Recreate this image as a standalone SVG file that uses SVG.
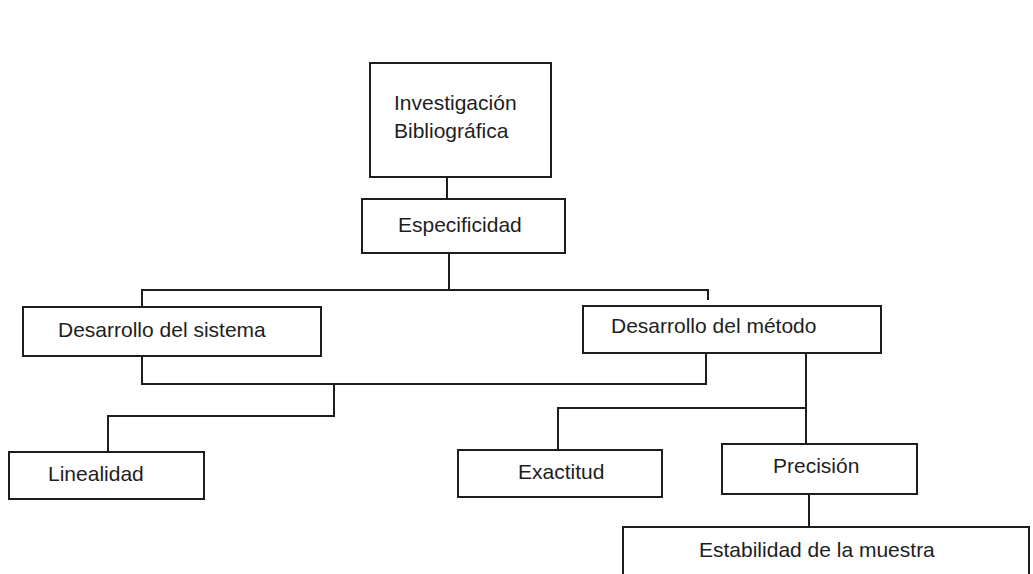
<svg xmlns="http://www.w3.org/2000/svg" width="1033" height="574" viewBox="0 0 1033 574">
<style>
.box{fill:#fff;stroke:#1e1e1e;stroke-width:2}
.lbl{font-family:"Liberation Sans",Arial,sans-serif;font-size:21px;fill:#1e1e1e}
.con{fill:none;stroke:#1e1e1e;stroke-width:2}
</style>
<rect width="1033" height="574" fill="#fff"/>
<g id="connectors">
<path class="con" d="M447,177V199"/>
<path class="con" d="M449,253V290M142,307V290H708V300"/>
<path class="con" d="M142,356V384H706V353"/>
<path class="con" d="M334,384V416H108V452"/>
<path class="con" d="M806,353V444M806,408H558V450"/>
<path class="con" d="M809,494V527"/>
</g>
<g id="investigacion"><rect class="box" x="370" y="63" width="181" height="114"/><text class="lbl" x="394" y="110">Investigación</text><text class="lbl" x="394" y="138">Bibliográfica</text></g>
<g id="especificidad"><rect class="box" x="362" y="199" width="203" height="54"/><text class="lbl" x="398" y="232">Especificidad</text></g>
<g id="sistema"><rect class="box" x="23" y="307" width="298" height="49"/><text class="lbl" x="58" y="337">Desarrollo del sistema</text></g>
<g id="metodo"><rect class="box" x="583" y="306" width="298" height="47"/><text class="lbl" x="611" y="333">Desarrollo del método</text></g>
<g id="linealidad"><rect class="box" x="9" y="452" width="195" height="47"/><text class="lbl" x="48" y="481">Linealidad</text></g>
<g id="exactitud"><rect class="box" x="458" y="450" width="204" height="47"/><text class="lbl" x="518" y="479">Exactitud</text></g>
<g id="precision"><rect class="box" x="722" y="444" width="195" height="50"/><text class="lbl" x="773" y="473">Precisión</text></g>
<g id="estabilidad"><rect class="box" x="623" y="527" width="406" height="80"/><text class="lbl" x="699" y="557">Estabilidad de la muestra</text></g>
</svg>
